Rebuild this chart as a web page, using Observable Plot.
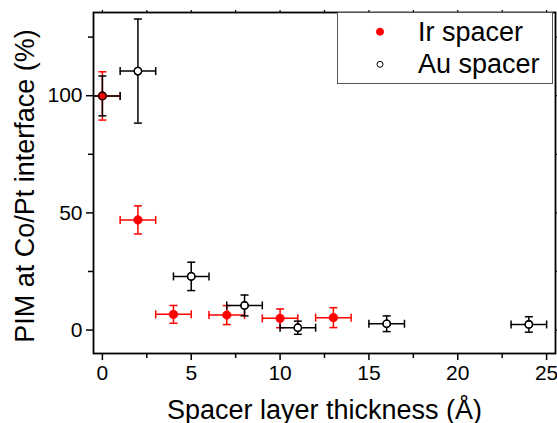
<!DOCTYPE html>
<html><head><meta charset="utf-8">
<script src="https://cdn.jsdelivr.net/npm/d3@7"></script>
<script src="https://cdn.jsdelivr.net/npm/@observablehq/plot@0.6"></script>
<style>
body{margin:0;background:#fff;font-family:"Liberation Sans",Arial,sans-serif;}
#wrap{position:relative;width:557px;height:423px;}
#legend{position:absolute;left:337px;top:12px;}
</style></head>
<body><div id="wrap"></div>
<script>
// ---- data ----
const irX    = [0, 2, 4, 7, 10, 13];
const irY    = [99.9, 47, 6.7, 6.4, 5, 5.3];
const irYErr = [10.3, 6, 3.8, 4.05, 4, 4.25];
const irXErr = [1, 1, 1, 1, 1, 1];

const auX    = [0, 2, 5, 8, 11, 16, 24];
const auY    = [99.9, 110.5, 22.9, 10.5, 1.0, 2.7, 2.4];
const auYErr = [8.5, 22.2, 6.05, 4.45, 2.8, 3.35, 3.3];
const auXErr = [1, 1, 1, 1, 1, 1, 1];

const xMajor = [0, 5, 10, 15, 20, 25];
const xMinor = [2.5, 7.5, 12.5, 17.5, 22.5];
const yMajor = [0, 50, 100];
const yMinor = [25, 75, 125];

const xTitle = "Spacer layer thickness (Å)";
const yTitle = "PIM at Co/Pt interface (%)";
const seriesNames = ["Ir spacer", "Au spacer"];

const ir = irX.map((x, i) => ({x, y: irY[i], ye: irYErr[i], xe: irXErr[i]}));
const au = auX.map((x, i) => ({x, y: auY[i], ye: auYErr[i], xe: auXErr[i]}));

const font = "Liberation Sans, Arial, sans-serif";
const hcap = {draw(ctx, size){ const r = Math.sqrt(size/Math.PI); ctx.moveTo(-r,0); ctx.lineTo(r,0); }};
const vcap = {draw(ctx, size){ const r = Math.sqrt(size/Math.PI); ctx.moveTo(0,-r); ctx.lineTo(0,r); }};

function errMarks(data, color) {
  const sw = 1.5;
  return [
    Plot.ruleX(data, {x: "x", y1: d => d.y - d.ye, y2: d => d.y + d.ye, stroke: color, strokeWidth: sw, clip: true}),
    Plot.ruleY(data, {y: "y", x1: d => d.x - d.xe, x2: d => d.x + d.xe, stroke: color, strokeWidth: sw, clip: true}),
    Plot.dot(data, {x: "x", y: d => d.y + d.ye, symbol: hcap, r: 4, stroke: color, fill: "none", strokeWidth: sw, clip: true}),
    Plot.dot(data, {x: "x", y: d => d.y - d.ye, symbol: hcap, r: 4, stroke: color, fill: "none", strokeWidth: sw, clip: true}),
    Plot.dot(data, {x: d => d.x - d.xe, y: "y", symbol: vcap, r: 4, stroke: color, fill: "none", strokeWidth: sw, clip: true}),
    Plot.dot(data, {x: d => d.x + d.xe, y: "y", symbol: vcap, r: 4, stroke: color, fill: "none", strokeWidth: sw, clip: true})
  ];
}

const chart = Plot.plot({
  width: 557, height: 423,
  marginLeft: 93, marginRight: 2, marginTop: 12, marginBottom: 70,
  x: {domain: [-0.5, 25.5]},
  y: {domain: [-10, 135.5]},
  style: {fontFamily: font, background: "white", color: "black"},
  marks: [
    ...errMarks(ir, "#ff0000"),
    ...errMarks(au, "black"),
    Plot.dot(au, {x: "x", y: "y", r: 3.7, fill: "white", stroke: "black", strokeWidth: 1.3}),
    Plot.dot(ir, {x: "x", y: "y", r: 4.3, fill: "#ff0000", stroke: "#ff0000", strokeWidth: 0.5}),
    Plot.dot(au, {x: "x", y: "y", r: 3.7, fill: "none", stroke: "black", strokeWidth: 1.3}),
    Plot.frame({stroke: "black", strokeWidth: 1.8}),
    Plot.axisX(xMajor, {tickSize: 7, tickPadding: 5, fontSize: 21, strokeWidth: 1.5, label: null, tickFormat: d => String(d)}),
    Plot.axisX(xMinor, {tickSize: 5, strokeWidth: 1.5, label: null, tickFormat: () => ""}),
    Plot.axisX([...xMajor, ...xMinor], {anchor: "top", tickSize: 3, strokeWidth: 1.2, label: null, tickFormat: () => ""}),
    Plot.axisY(yMajor, {tickSize: 7, tickPadding: 4, fontSize: 21, strokeWidth: 1.5, label: null, tickFormat: d => String(d)}),
    Plot.axisY(yMinor, {tickSize: 5, strokeWidth: 1.5, label: null, tickFormat: () => ""}),
    Plot.axisY([...yMajor, ...yMinor], {anchor: "right", tickSize: 3, strokeWidth: 1.2, label: null, tickFormat: () => ""}),
    Plot.text([xTitle], {text: d => d, frameAnchor: "bottom", lineAnchor: "bottom", dy: 65, fontSize: 27, fill: "black"}),
    Plot.text([yTitle], {text: d => d, frameAnchor: "left", rotate: -90, lineAnchor: "bottom", textAnchor: "middle", dx: -60, dy: 3, fontSize: 27, fill: "black"})
  ]
});
const wrap = document.getElementById("wrap");
wrap.appendChild(chart);

// legend overlay
const W = 215, H = 71;
const leg = d3.select(wrap).append("svg").attr("id", "legend").attr("width", W + 1).attr("height", H + 1);
leg.append("rect").attr("x", 0.5).attr("y", 0.5).attr("width", W).attr("height", H)
  .attr("fill", "white").attr("stroke", "#555").attr("stroke-width", 1);
const rows = [
  {name: seriesNames[0], fill: "#ff0000", stroke: "#ff0000", r: 3.5},
  {name: seriesNames[1], fill: "white", stroke: "black", r: 3}
];
rows.forEach((row, i) => {
  const base = 28.7 + i * 32.6;
  leg.append("circle").attr("cx", 43).attr("cy", base - 9).attr("r", row.r)
    .attr("fill", row.fill).attr("stroke", row.stroke).attr("stroke-width", 1);
  leg.append("text").attr("x", 81).attr("y", base).attr("font-family", font)
    .attr("font-size", 27).attr("fill", "black").text(row.name);
});
</script>
</body></html>
